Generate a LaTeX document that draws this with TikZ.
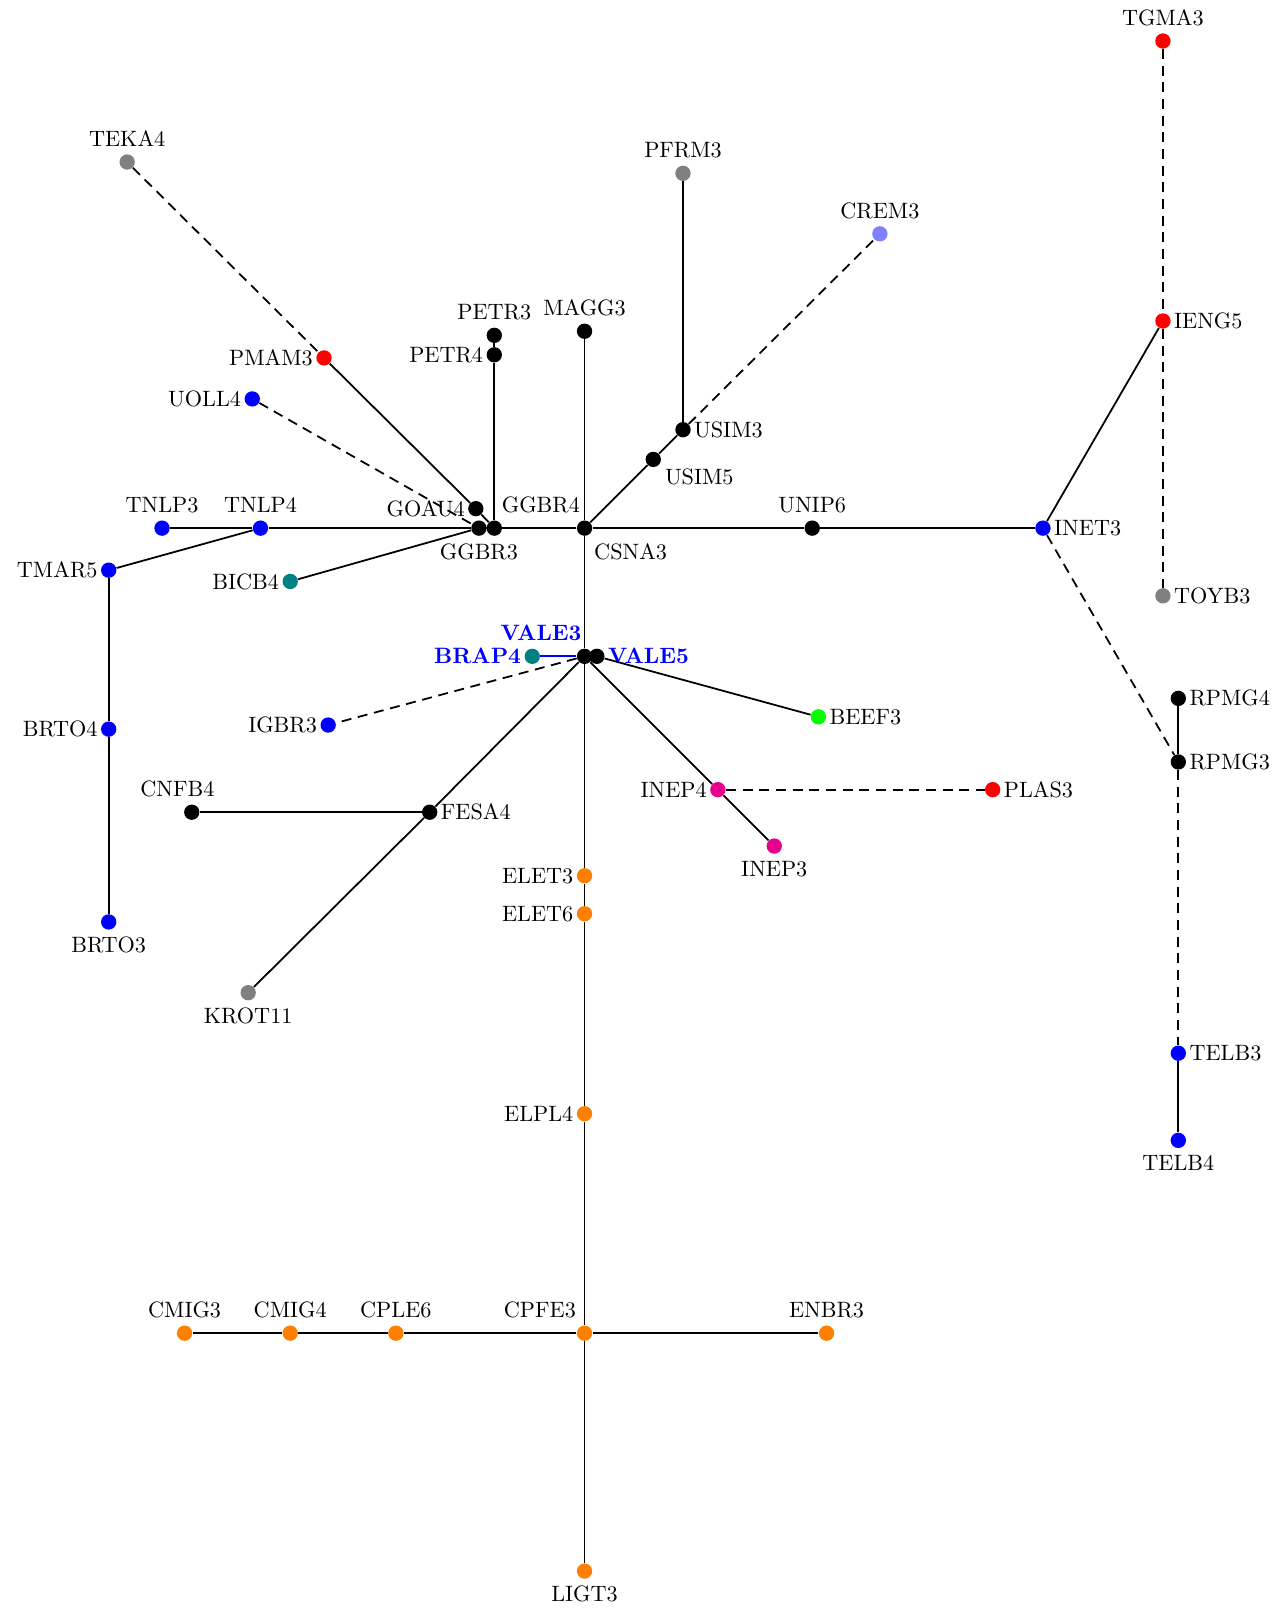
\documentclass[tikz,border=0pt]{standalone}
\usetikzlibrary{positioning}
\definecolor{lblue}{RGB}{128,128,255}
\definecolor{tealc}{RGB}{0,128,128}
\definecolor{greenc}{RGB}{0,255,0}
\definecolor{orangec}{RGB}{255,128,0}
\definecolor{magc}{RGB}{230,0,140}
\begin{document}
\begin{tikzpicture}[x=0.4615pt,y=-0.4615pt,
  dot/.style={circle,inner sep=0pt,minimum size=6.9pt,draw=none,fill=black},
  every label/.style={inner xsep=1.2pt,inner ysep=3pt,font=\normalsize},
  label distance=0pt,
  bl/.style={text=blue,font=\bfseries},
  edge/.style={line width=0.8pt,black},
  dedge/.style={line width=0.8pt,black,dash pattern=on 4.5pt off 3pt}]
\useasboundingbox (0,0) rectangle (1253,1568);
% nodes
\node[dot,fill=red,label={90:TGMA3}] (TGMA3) at (1134,40) {};
\node[dot,fill=gray,label={90:TEKA4}] (TEKA4) at (124,158) {};
\node[dot,fill=gray,label={90:PFRM3}] (PFRM3) at (666,169) {};
\node[dot,fill=lblue,label={90:CREM3}] (CREM3) at (858,228) {};
\node[dot,label={90:PETR3}] (PETR3) at (482,327) {};
\node[dot,label={180:PETR4}] (PETR4) at (482,346) {};
\node[dot,label={90:MAGG3}] (MAGG3) at (570,323) {};
\node[dot,fill=red,label={180:PMAM3}] (PMAM3) at (316,349) {};
\node[dot,fill=red,label={0:IENG5}] (IENG5) at (1134,313) {};
\node[dot,fill=blue,label={180:UOLL4}] (UOLL4) at (246,389) {};
\node[dot,label={0:USIM3}] (USIM3) at (666,419) {};
\node[dot,label={[anchor=north west,xshift=3.9pt,yshift=2.5pt]-90:USIM5}] (USIM5) at (637,448) {};
\node[dot,label={180:GOAU4}] (GOAU4) at (464,496) {};
\node[dot,label={-90:GGBR3}] (GGBR3) at (467,515) {};
\node[dot,label={[anchor=south west,xshift=2pt]90:GGBR4}] (GGBR4) at (482,515) {};
\node[dot,label={[anchor=north west,xshift=2.95pt]-90:CSNA3}] (CSNA3) at (570,515) {};
\node[dot,label={90:UNIP6}] (UNIP6) at (792,515) {};
\node[dot,fill=blue,label={0:INET3}] (INET3) at (1017,515) {};
\node[dot,fill=blue,label={90:TNLP3}] (TNLP3) at (158,515) {};
\node[dot,fill=blue,label={90:TNLP4}] (TNLP4) at (254,515) {};
\node[dot,fill=blue,label={180:TMAR5}] (TMAR5) at (106,556) {};
\node[dot,fill=tealc,label={180:BICB4}] (BICB4) at (283,567) {};
\node[dot,fill=gray,label={0:TOYB3}] (TOYB3) at (1134,581) {};
\node[dot,fill=tealc,label={[bl]180:BRAP4}] (BRAP4) at (519,640) {};
\node[dot,fill=greenc,label={0:BEEF3}] (BEEF3) at (798,699) {};
\node[dot,fill=blue,label={180:IGBR3}] (IGBR3) at (320,707) {};
\node[dot,fill=blue,label={180:BRTO4}] (BRTO4) at (106,711) {};
\node[dot,label={0:RPMG4}] (RPMG4) at (1149,681) {};
\node[dot,label={0:RPMG3}] (RPMG3) at (1149,743) {};
\node[dot,fill=magc,label={180:INEP4}] (INEP4) at (700,770) {};
\node[dot,fill=red,label={0:PLAS3}] (PLAS3) at (968,770) {};
\node[dot,label={[xshift=-6.5pt]90:CNFB4}] (CNFB4) at (187,792) {};
\node[dot,label={0:FESA4}] (FESA4) at (419,792) {};
\node[dot,fill=magc,label={-90:INEP3}] (INEP3) at (755,825) {};
\node[dot,fill=orangec,label={180:ELET3}] (ELET3) at (570,854) {};
\node[dot,fill=orangec,label={180:ELET6}] (ELET6) at (570,891) {};
\node[dot,fill=blue,label={-90:BRTO3}] (BRTO3) at (106,899) {};
\node[dot,fill=gray,label={-90:KROT11}] (KROT11) at (242,968) {};
\node[dot,fill=blue,label={0:TELB3}] (TELB3) at (1149,1027) {};
\node[dot,fill=blue,label={-90:TELB4}] (TELB4) at (1149,1112) {};
\node[dot,fill=orangec,label={180:ELPL4}] (ELPL4) at (570,1086) {};
\node[dot,fill=orangec,label={90:CMIG3}] (CMIG3) at (180,1300) {};
\node[dot,fill=orangec,label={90:CMIG4}] (CMIG4) at (283,1300) {};
\node[dot,fill=orangec,label={90:CPLE6}] (CPLE6) at (386,1300) {};
\node[dot,fill=orangec,label={[anchor=south east,xshift=-2.5pt]90:CPFE3}] (CPFE3) at (570,1300) {};
\node[dot,fill=orangec,label={90:ENBR3}] (ENBR3) at (806,1300) {};
\node[dot,fill=orangec,label={-90:LIGT3}] (LIGT3) at (570,1532) {};
% edges
\draw[dedge] (TGMA3) -- (IENG5);
\draw[dedge] (IENG5) -- (TOYB3);
\draw[edge] (IENG5) -- (INET3);
\draw[dedge] (INET3) -- (RPMG3);
\draw[edge] (RPMG4) -- (RPMG3);
\draw[dedge] (RPMG3) -- (TELB3);
\draw[edge] (TELB3) -- (TELB4);
\draw[edge] (INET3) -- (UNIP6);
\draw[edge] (UNIP6) -- (CSNA3);
\draw[edge] (CSNA3) -- (USIM5);
\draw[edge] (USIM5) -- (USIM3);
\draw[edge] (USIM3) -- (PFRM3);
\draw[dedge] (USIM3) -- (CREM3);
\draw[edge] (CSNA3) -- (MAGG3);
\draw[edge] (CSNA3) -- (GGBR4);
\draw[edge] (GGBR4) -- (PETR4);
\draw[edge] (PETR4) -- (PETR3);
\draw[edge] (GGBR4) -- (GGBR3);
\draw[edge] (GGBR3) -- (TNLP4);
\draw[edge] (TNLP4) -- (TNLP3);
\draw[edge] (GGBR3) -- (BICB4);
\draw[edge] (TNLP4) -- (TMAR5);
\draw[edge] (TMAR5) -- (BRTO4);
\draw[edge] (BRTO4) -- (BRTO3);
\draw[edge] (PMAM3) -- (GOAU4);
\draw[edge] (GOAU4) -- (GGBR4);
\draw[dedge] (TEKA4) -- (PMAM3);
\draw[dedge] (UOLL4) -- (GGBR3);
% VALE cluster
\node[dot,label={[bl,anchor=south east]90:VALE3}] (VALE3) at (570,640) {};
\node[dot,label={[bl]0:VALE5}] (VALE5) at (582,640) {};
\draw[edge] (CSNA3) -- (VALE3);
\draw[edge] (VALE3) -- (VALE5);
\draw[line width=0.8pt,blue] (VALE3) -- (BRAP4);
\draw[dedge] (VALE3) -- (IGBR3);
\draw[edge] (VALE5) -- (BEEF3);
\draw[edge] (VALE3) -- (FESA4);
\draw[edge] (FESA4) -- (CNFB4);
\draw[edge] (FESA4) -- (KROT11);
\draw[edge] (VALE3) -- (INEP4);
\draw[edge] (INEP4) -- (INEP3);
\draw[dedge] (INEP4) -- (PLAS3);
\draw[edge] (VALE3) -- (ELET3);
\draw[edge] (ELET3) -- (ELET6);
\draw[edge] (ELET6) -- (ELPL4);
\draw[edge] (ELPL4) -- (CPFE3);
\draw[edge] (CPFE3) -- (CPLE6);
\draw[edge] (CPLE6) -- (CMIG4);
\draw[edge] (CMIG4) -- (CMIG3);
\draw[edge] (CPFE3) -- (ENBR3);
\draw[edge] (CPFE3) -- (LIGT3);
\end{tikzpicture}
\end{document}
